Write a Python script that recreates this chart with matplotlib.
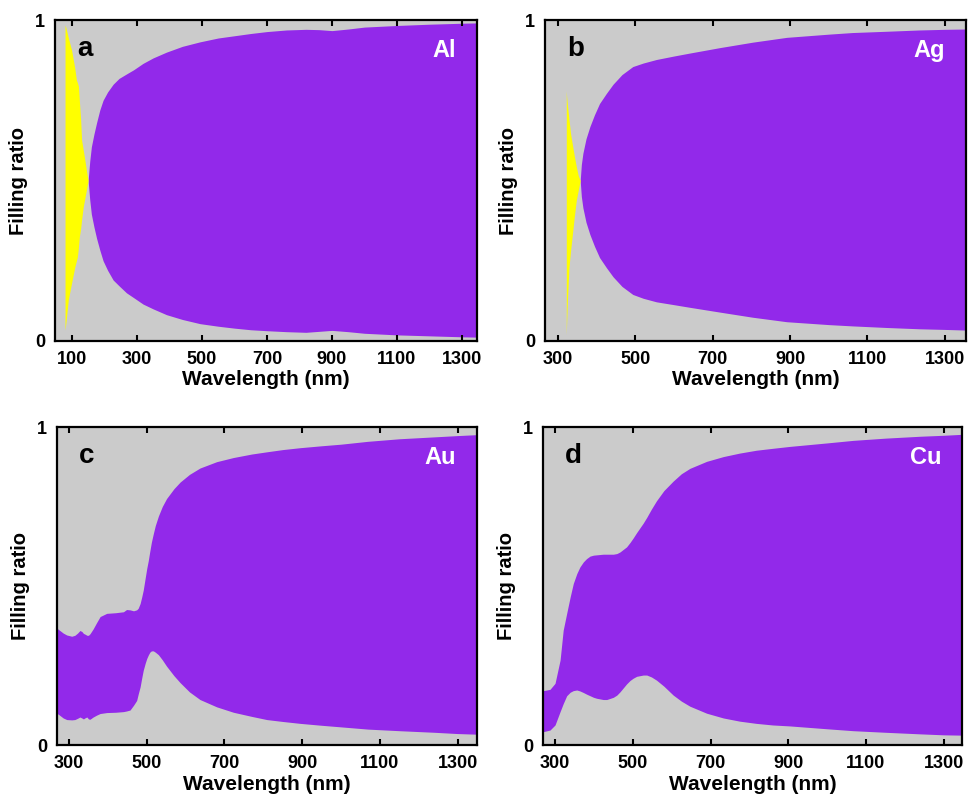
import matplotlib
matplotlib.use("Agg")
import matplotlib.pyplot as plt

plt.rcParams['font.family'] = ['Liberation Sans', 'DejaVu Sans']
plt.rcParams['font.weight'] = 'bold'

PURPLE = '#9229ea'
YELLOW = '#ffff00'
GRAY = '#cbcbcb'

# ---- panel a: Al ----
al_wl = [150, 155, 160, 168, 176, 186, 196, 210, 227, 245, 268, 290, 319, 350,
         391, 440, 494, 550, 600, 650, 700, 760, 820, 860, 900, 950, 1000,
         1100, 1200, 1300, 1346]
al_upper = [0.50, 0.56, 0.605, 0.645, 0.68, 0.72, 0.75, 0.776, 0.80, 0.818,
            0.832, 0.845, 0.865, 0.882, 0.90, 0.918, 0.932, 0.944, 0.951,
            0.958, 0.964, 0.969, 0.971, 0.970, 0.967, 0.972, 0.978, 0.983,
            0.987, 0.990, 0.991]
al_lower = [0.50, 0.44, 0.395, 0.355, 0.32, 0.283, 0.25, 0.22, 0.19, 0.172,
            0.15, 0.135, 0.115, 0.10, 0.082, 0.067, 0.054, 0.046, 0.040,
            0.035, 0.032, 0.029, 0.027, 0.030, 0.033, 0.029, 0.024, 0.019,
            0.016, 0.013, 0.012]
al_y_wl = [79, 82, 89, 99, 109, 114, 117, 120, 123, 127, 130, 135, 140, 145, 150]
al_y_upper = [0.985, 0.975, 0.945, 0.907, 0.85, 0.813, 0.805, 0.795, 0.75,
              0.69, 0.626, 0.595, 0.564, 0.53, 0.50]
al_y_lower = [0.034, 0.06, 0.128, 0.18, 0.23, 0.25, 0.262, 0.29, 0.325, 0.35,
              0.378, 0.418, 0.445, 0.472, 0.50]

# ---- panel b: Ag ----
ag_wl = [357, 360, 364, 372, 382, 394, 407, 425, 442, 465, 493, 520, 554, 600,
         640, 718, 803, 891, 1000, 1061, 1150, 1234, 1300, 1355]
ag_upper = [0.50, 0.55, 0.585, 0.63, 0.668, 0.705, 0.74, 0.772, 0.80, 0.83,
            0.855, 0.866, 0.877, 0.888, 0.897, 0.914, 0.931, 0.946, 0.956,
            0.961, 0.965, 0.969, 0.971, 0.972]
ag_lower = [0.50, 0.45, 0.415, 0.37, 0.332, 0.295, 0.26, 0.228, 0.20, 0.17,
            0.145, 0.133, 0.122, 0.113, 0.105, 0.090, 0.074, 0.060, 0.051,
            0.047, 0.042, 0.038, 0.036, 0.034]
ag_y_wl = [321, 322, 324, 328, 332, 337, 342, 347, 352, 357]
ag_y_upper = [0.78, 0.76, 0.735, 0.69, 0.647, 0.61, 0.575, 0.543, 0.515, 0.50]
ag_y_lower = [0.02, 0.06, 0.128, 0.23, 0.28, 0.335, 0.39, 0.439, 0.47, 0.50]

# ---- panel c: Au ----
au_wl = [270, 285, 294, 307, 315, 322, 328, 333, 337, 342, 346, 350, 354, 362,
         371, 380, 397, 420, 440, 448, 457, 466, 474, 478, 483, 487, 491, 496,
         500, 504, 508, 512, 517, 522, 530, 540, 551, 570, 586, 610, 637, 680,
         723, 770, 809, 850, 895, 950, 1000, 1069, 1150, 1240, 1300, 1350]
au_upper = [0.366, 0.352, 0.346, 0.342, 0.345, 0.352, 0.360, 0.357, 0.351,
            0.348, 0.345, 0.345, 0.350, 0.365, 0.385, 0.404, 0.414, 0.416,
            0.419, 0.426, 0.425, 0.422, 0.425, 0.43, 0.445, 0.465, 0.487,
            0.525, 0.555, 0.58, 0.61, 0.638, 0.665, 0.69, 0.72, 0.75, 0.775,
            0.806, 0.827, 0.851, 0.871, 0.891, 0.904, 0.915, 0.922, 0.929,
            0.935, 0.941, 0.946, 0.955, 0.963, 0.969, 0.973, 0.976]
au_lower = [0.099, 0.085, 0.080, 0.079, 0.080, 0.084, 0.088, 0.085, 0.082,
            0.086, 0.088, 0.082, 0.081, 0.088, 0.094, 0.099, 0.102, 0.103,
            0.105, 0.107, 0.11, 0.125, 0.14, 0.16, 0.183, 0.21, 0.235, 0.257,
            0.272, 0.283, 0.292, 0.296, 0.296, 0.292, 0.284, 0.268, 0.248,
            0.218, 0.196, 0.167, 0.143, 0.12, 0.103, 0.09, 0.080, 0.074,
            0.068, 0.062, 0.057, 0.05, 0.045, 0.040, 0.036, 0.034]

# ---- panel d: Cu ----
cu_wl = [270, 287, 300, 313, 321, 330, 339, 347, 356, 364, 373, 381, 390, 399,
         407, 424, 433, 450, 459, 467, 484, 493, 501, 510, 527, 536, 548, 561,
         580, 604, 625, 647, 690, 733, 775, 818, 860, 904, 1000, 1067, 1150,
         1240, 1300, 1347]
cu_upper = [0.171, 0.175, 0.194, 0.267, 0.361, 0.414, 0.466, 0.508, 0.539,
            0.56, 0.576, 0.586, 0.594, 0.597, 0.598, 0.60, 0.60, 0.60, 0.602,
            0.607, 0.623, 0.637, 0.651, 0.668, 0.698, 0.716, 0.742, 0.768,
            0.80, 0.830, 0.853, 0.870, 0.892, 0.907, 0.918, 0.927, 0.933,
            0.939, 0.95, 0.958, 0.965, 0.971, 0.974, 0.977]
cu_lower = [0.042, 0.047, 0.063, 0.105, 0.13, 0.155, 0.166, 0.171, 0.173,
            0.17, 0.165, 0.16, 0.155, 0.15, 0.147, 0.143, 0.143, 0.15, 0.157,
            0.167, 0.192, 0.203, 0.21, 0.216, 0.22, 0.22, 0.214, 0.204, 0.185,
            0.157, 0.138, 0.122, 0.10, 0.085, 0.075, 0.068, 0.063, 0.06, 0.051,
            0.045, 0.04, 0.035, 0.032, 0.031]

panels = [
    # letter, metal, axes rect, xlim, xticks, purple, yellow
    ('a', 'Al', [0.0566, 0.5743, 0.4346, 0.4007], (48, 1346),
     list(range(100, 1400, 200)), (al_wl, al_upper, al_lower),
     (al_y_wl, al_y_upper, al_y_lower)),
    ('b', 'Ag', [0.5613, 0.5743, 0.4336, 0.4007], (266, 1355),
     list(range(300, 1400, 200)), (ag_wl, ag_upper, ag_lower),
     (ag_y_wl, ag_y_upper, ag_y_lower)),
    ('c', 'Au', [0.0587, 0.0699, 0.4325, 0.3970], (269, 1350),
     list(range(300, 1400, 200)), (au_wl, au_upper, au_lower), None),
    ('d', 'Cu', [0.5592, 0.0699, 0.4315, 0.3970], (269, 1347),
     list(range(300, 1400, 200)), (cu_wl, cu_upper, cu_lower), None),
]

fig = plt.figure(figsize=(9.71, 8.01), dpi=100)

for letter, metal, rect, xlim, xticks, purple, yellow in panels:
    ax = fig.add_axes(rect)
    ax.set_facecolor(GRAY)
    ax.fill_between(purple[0], purple[2], purple[1], color=PURPLE, lw=0)
    if yellow is not None:
        ax.fill_between(yellow[0], yellow[2], yellow[1], color=YELLOW, lw=0)
    ax.set_xlim(*xlim)
    ax.set_ylim(0, 1)
    ax.set_xticks(xticks)
    ax.set_yticks([0, 1])
    ax.set_yticklabels(['0', '1'])
    ax.tick_params(axis='x', direction='in', top=True, length=4, width=1.5,
                   labelsize=13, pad=7)
    ax.tick_params(axis='y', length=0, labelsize=13, pad=7)
    for lab in ax.get_xticklabels() + ax.get_yticklabels():
        lab.set_fontweight('bold')
    for sp in ax.spines.values():
        sp.set_linewidth(1.6)
    ax.set_xlabel('Wavelength (nm)', fontsize=15, fontweight='bold', labelpad=2)
    ax.set_ylabel('Filling ratio', fontsize=14.5, fontweight='bold', labelpad=5)
    ax.text(0.052, 0.91, letter, transform=ax.transAxes, fontsize=20,
            fontweight='bold', ha='left', va='center')
    ax.text(0.95, 0.905, metal, transform=ax.transAxes, fontsize=17,
            fontweight='bold', color='white', ha='right', va='center')

fig.savefig('out.png', dpi=100)
